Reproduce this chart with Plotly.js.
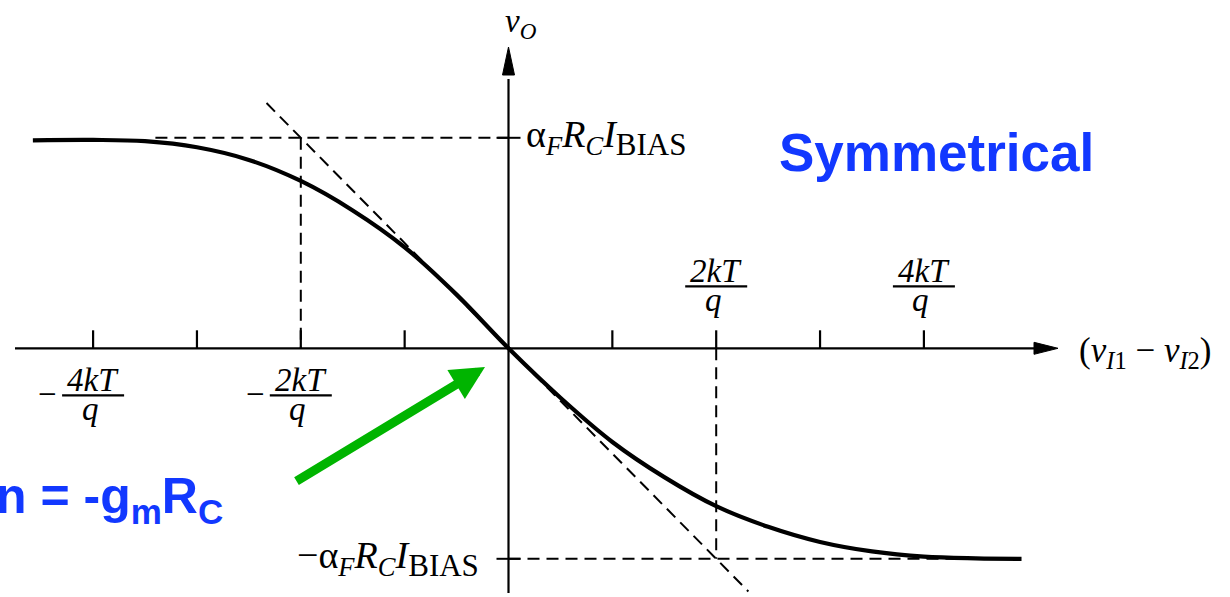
<!DOCTYPE html>
<html>
<head>
<meta charset="utf-8">
<script src="https://cdn.plot.ly/plotly-3.0.1.min.js"></script>
<style>
  html, body { margin: 0; padding: 0; background: #ffffff; }
  #chart { width: 1230px; height: 597px; }
</style>
</head>
<body>
<div id="chart"></div>
<script>
// Differential-pair transfer characteristic: output voltage vs. differential input,
// input in units of kT/q, output in units of alpha_F * R_C * I_BIAS.
const curveX = [-4.58, -4.0, -3.5, -3.0, -2.5, -2.0, -1.5, -1.0, -0.5, 0,
                0.5, 1.0, 1.5, 2.0, 2.5, 3.0, 3.5, 4.0, 4.5, 4.94];
const curveY = [0.988, 0.990, 0.984, 0.955, 0.895, 0.795, 0.655, 0.480, 0.255, 0,
                -0.235, -0.445, -0.612, -0.750, -0.848, -0.920, -0.965, -0.990, -0.998, -1.000];

// Small-signal slope through the origin (gain = -gm*RC)
const tangentX = [-2.33, 2.31];
const tangentY = [1.165, -1.155];

// Axis ticks and labelled ticks
const tickPos = [-4, -3, -2, -1, 1, 2, 3, 4];
const labelTicks = [-4, -2, 2, 4];
const labelNums = ['4kT', '2kT', '2kT', '4kT'];

// Saturation levels and their labels
const levelVals = [1, -1];
const biasSub = '<sub><span style="font-size:31px">BIAS</span></sub>';
const levelLabels = [
  'α<sub><i>F</i></sub><i>R</i><sub><i>C</i></sub><i>I</i>' + biasSub,
  '−α<sub><i>F</i></sub><i>R</i><sub><i>C</i></sub><i>I</i>' + biasSub
];
// Inputs where the slope line meets the saturation levels
const cornerX = [-2, 2];

// ---- drawing setup ----
const PX = 1 / 103.85;   // one pixel in x units
const PY = 1 / 210.5;    // one pixel in y units
const xRange = [-508.5 * PX, (1230 - 508.5) * PX];
const yRange = [-(597 - 348.3) * PY, 348.3 * PY];

const serif = '"Liberation Serif", "Times New Roman", serif';
const sans = '"Liberation Sans", Arial, sans-serif';
const ink = '#000000';
const dash = '12px,7px';

const shapes = [];
const annotations = [];

// axes
const xAxisStart = (15 - 508.5) * PX, xAxisTip = (1058 - 508.5) * PX, xHeadBase = (1034 - 508.5) * PX;
const yAxisStart = -(593 - 348.3) * PY, yAxisTip = (348.3 - 47) * PY, yHeadBase = (348.3 - 75) * PY;
shapes.push({type: 'line', xref: 'x', yref: 'y', x0: xAxisStart, x1: xHeadBase + 4 * PX, y0: 0, y1: 0,
             line: {color: ink, width: 2.2}});
shapes.push({type: 'line', xref: 'x', yref: 'y', x0: 0, x1: 0, y0: yAxisStart, y1: yHeadBase - 4 * PY,
             line: {color: ink, width: 2.2}});
shapes.push({type: 'path', xref: 'x', yref: 'y', fillcolor: ink, line: {color: ink, width: 1},
             path: `M ${xHeadBase},${6 * PY} L ${xAxisTip},0 L ${xHeadBase},${-6 * PY} Z`});
shapes.push({type: 'path', xref: 'x', yref: 'y', fillcolor: ink, line: {color: ink, width: 1},
             path: `M ${-6 * PX},${yHeadBase} L 0,${yAxisTip} L ${6 * PX},${yHeadBase} Z`});

// x ticks (pointing up from the axis)
tickPos.forEach(t => {
  shapes.push({type: 'line', xref: 'x', yref: 'y', x0: t, x1: t, y0: 0, y1: 18 * PY,
               line: {color: ink, width: 2.2}});
});
// y ticks at the saturation levels
levelVals.forEach(v => {
  shapes.push({type: 'line', xref: 'x', yref: 'y', x0: -12 * PX, x1: 12 * PX, y0: v, y1: v,
               line: {color: ink, width: 2}});
});

// dashed guides: saturation levels and drop lines
shapes.push({type: 'line', xref: 'x', yref: 'y', x0: -3.4, x1: 0, y0: levelVals[0], y1: levelVals[0],
             line: {color: ink, width: 2, dash: dash}});
shapes.push({type: 'line', xref: 'x', yref: 'y', x0: 0, x1: curveX[curveX.length - 1], y0: levelVals[1], y1: levelVals[1],
             line: {color: ink, width: 2, dash: dash}});
shapes.push({type: 'line', xref: 'x', yref: 'y', x0: cornerX[0], x1: cornerX[0], y0: levelVals[0], y1: 0,
             line: {color: ink, width: 2, dash: dash}});
shapes.push({type: 'line', xref: 'x', yref: 'y', x0: cornerX[1], x1: cornerX[1], y0: 0, y1: levelVals[1],
             line: {color: ink, width: 2, dash: dash}});

// fraction labels k T / q
const fracFont = {family: serif, size: 33, color: ink};
labelTicks.forEach((t, i) => {
  const above = t > 0;
  const numY = above ? 77 * PY : -32 * PY;
  const barY = above ? 62 * PY : -47 * PY;
  const denY = above ? 48 * PY : -61 * PY;
  annotations.push({xref: 'x', yref: 'y', x: t, y: numY, showarrow: false,
                    text: '<i>' + labelNums[i] + '</i>', font: fracFont});
  annotations.push({xref: 'x', yref: 'y', x: t - 3 * PX, y: denY, showarrow: false,
                    text: '<i>q</i>', font: fracFont});
  shapes.push({type: 'line', xref: 'x', yref: 'y', x0: t - 31 * PX, x1: t + 31 * PX, y0: barY, y1: barY,
               line: {color: ink, width: 2.2}});
  if (!above) {
    annotations.push({xref: 'x', yref: 'y', x: t - 0.44, y: barY, yshift: 1, showarrow: false,
                      text: '−', font: fracFont});
  }
});

// level labels
const levelFont = {family: serif, size: 38, color: ink};
annotations.push({xref: 'x', yref: 'y', x: 15 * PX, y: levelVals[0], yshift: 0, xanchor: 'left', showarrow: false,
                  text: levelLabels[0], font: levelFont});
annotations.push({xref: 'x', yref: 'y', x: -28 * PX, y: levelVals[1], yshift: 0, xanchor: 'right', showarrow: false,
                  text: levelLabels[1], font: levelFont});

// axis titles
annotations.push({xref: 'x', yref: 'y', x: 12 * PX, y: 325 * PY, showarrow: false,
                  text: '<i>v</i><sub><i>O</i></sub>', font: {family: serif, size: 33, color: ink}});
annotations.push({xref: 'x', yref: 'y', x: (1077 - 508.5) * PX, y: 0, yshift: -4, xanchor: 'left', showarrow: false,
                  text: '(<i>v</i><sub><i>I</i>1</sub> − <i>v</i><sub><i>I</i>2</sub>)',
                  font: {family: serif, size: 35, color: ink}});

// blue slide captions
const blue = '#1238ff';
annotations.push({xref: 'x', yref: 'y', x: (777 - 508.5) * PX, y: (348.3 - 152) * PY, xanchor: 'left', showarrow: false,
                  text: '<b>Symmetrical</b>', font: {family: sans, size: 53, color: blue}});
annotations.push({xref: 'paper', yref: 'y', x: 0, xshift: -6, y: (348.3 - 499) * PY, xanchor: 'left', showarrow: false,
                  text: '<b>n = -g<sub>m</sub>R<sub>C</sub></b>', font: {family: sans, size: 50, color: blue}});

// green pointer to the slope at the origin
annotations.push({xref: 'x', yref: 'y', axref: 'x', ayref: 'y',
                  x: (485 - 508.5) * PX, y: (348.3 - 367) * PY,
                  ax: (295 - 508.5) * PX, ay: (348.3 - 482) * PY,
                  text: '', showarrow: true, arrowhead: 2, arrowsize: 0.75, arrowwidth: 9,
                  arrowcolor: '#00b400', standoff: 0});

const traces = [
  {x: tangentX, y: tangentY, type: 'scatter', mode: 'lines', hoverinfo: 'skip',
   line: {color: ink, width: 2, dash: dash}},
  {x: curveX, y: curveY, type: 'scatter', mode: 'lines', hoverinfo: 'skip',
   line: {color: ink, width: 4.2, shape: 'spline', smoothing: 1}}
];

const layout = {
  width: 1230, height: 597,
  margin: {l: 0, r: 0, t: 0, b: 0},
  paper_bgcolor: '#ffffff', plot_bgcolor: '#ffffff',
  showlegend: false,
  xaxis: {range: xRange, visible: false, fixedrange: true},
  yaxis: {range: yRange, visible: false, fixedrange: true},
  shapes: shapes,
  annotations: annotations
};

Plotly.newPlot('chart', traces, layout, {staticPlot: true, displayModeBar: false});
</script>
</body>
</html>
